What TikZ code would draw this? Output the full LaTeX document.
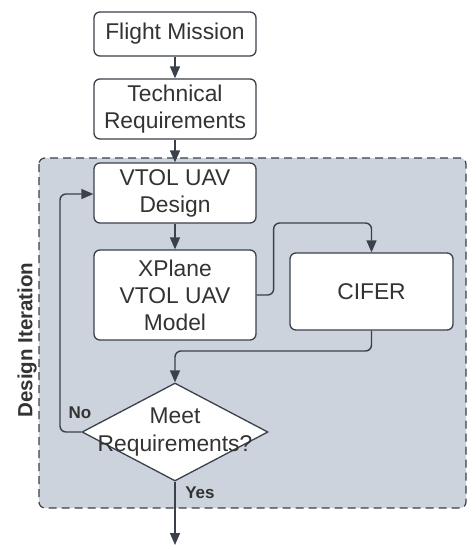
\documentclass[tikz,border=0pt]{standalone}
\usepackage{fontspec}
\setmainfont{Liberation Sans}
\usetikzlibrary{arrows.meta,shapes.geometric}
\definecolor{linec}{HTML}{3A414A}
\definecolor{textc}{HTML}{333333}
\definecolor{panel}{HTML}{CDD3DC}
\tikzset{
  box/.style={draw=linec, line width=1.3pt, fill=white, rounded corners=6pt,
    align=center, text=textc, font=\fontsize{22.8}{27}\selectfont, inner sep=0pt},
  conn/.style={draw=linec, line width=1.4pt, rounded corners=6pt,
    -{Triangle[length=12pt,width=10pt]}},
  lbl/.style={text=textc, font=\fontsize{17}{18}\selectfont\bfseries},
}
\begin{document}
\begin{tikzpicture}[x=1pt,y=-1pt]
\useasboundingbox (0,0) rectangle (476,550);
\fill[white] (0,0) rectangle (476,550);
\draw[draw=linec, line width=1.2pt, fill=panel, rounded corners=6pt, dash pattern=on 8pt off 5pt]
  (39,158) rectangle (466,508);
\node[lbl, rotate=90, font=\fontsize{20.5}{22}\selectfont\bfseries] (di) at (27,340) {Design Iteration};

\node[box, minimum width=162pt, minimum height=44pt] (fm) at (175,34) {Flight Mission};
\node[box, minimum width=162pt, minimum height=60pt] (tr) at (175,109) {Technical\\Requirements};
\node[box, minimum width=162pt, minimum height=60pt] (vd) at (175,193) {VTOL UAV\\Design};
\node[box, minimum width=162pt, minimum height=90pt] (xp) at (175,295) {XPlane\\VTOL UAV\\Model};
\node[box, minimum width=163pt, minimum height=77pt] (ci) at (371.5,291.5) {CIFER};
\node[draw=linec, line width=1.3pt, fill=white, shape=diamond, inner sep=0pt,
  minimum width=186pt, minimum height=98pt] (dm) at (175,432) {};
\node[align=center, text=textc, font=\fontsize{22.8}{28}\selectfont, inner sep=0pt] (dmt) at (175,432) {Meet\\Requirements?};

\coordinate (end) at (175,545);

\draw[conn] (fm) -- (tr);
\draw[conn] (tr.south) -- (vd.north);
\draw[conn] (vd) -- (xp);
\draw[conn] (xp.east) -- ++(17,0) |- (371.5,223) -- (ci.north);
\draw[conn] (ci.south) |- (175,351) -- (dm.north);
\draw[conn] (dm.west) -| (60,194) -- (vd.west |- 0,194);
\draw[conn] (dm.south) -- (end);

\node[lbl] (no) at (80,413) {No};
\node[lbl] (yes) at (200,493) {Yes};
\end{tikzpicture}
\end{document}
